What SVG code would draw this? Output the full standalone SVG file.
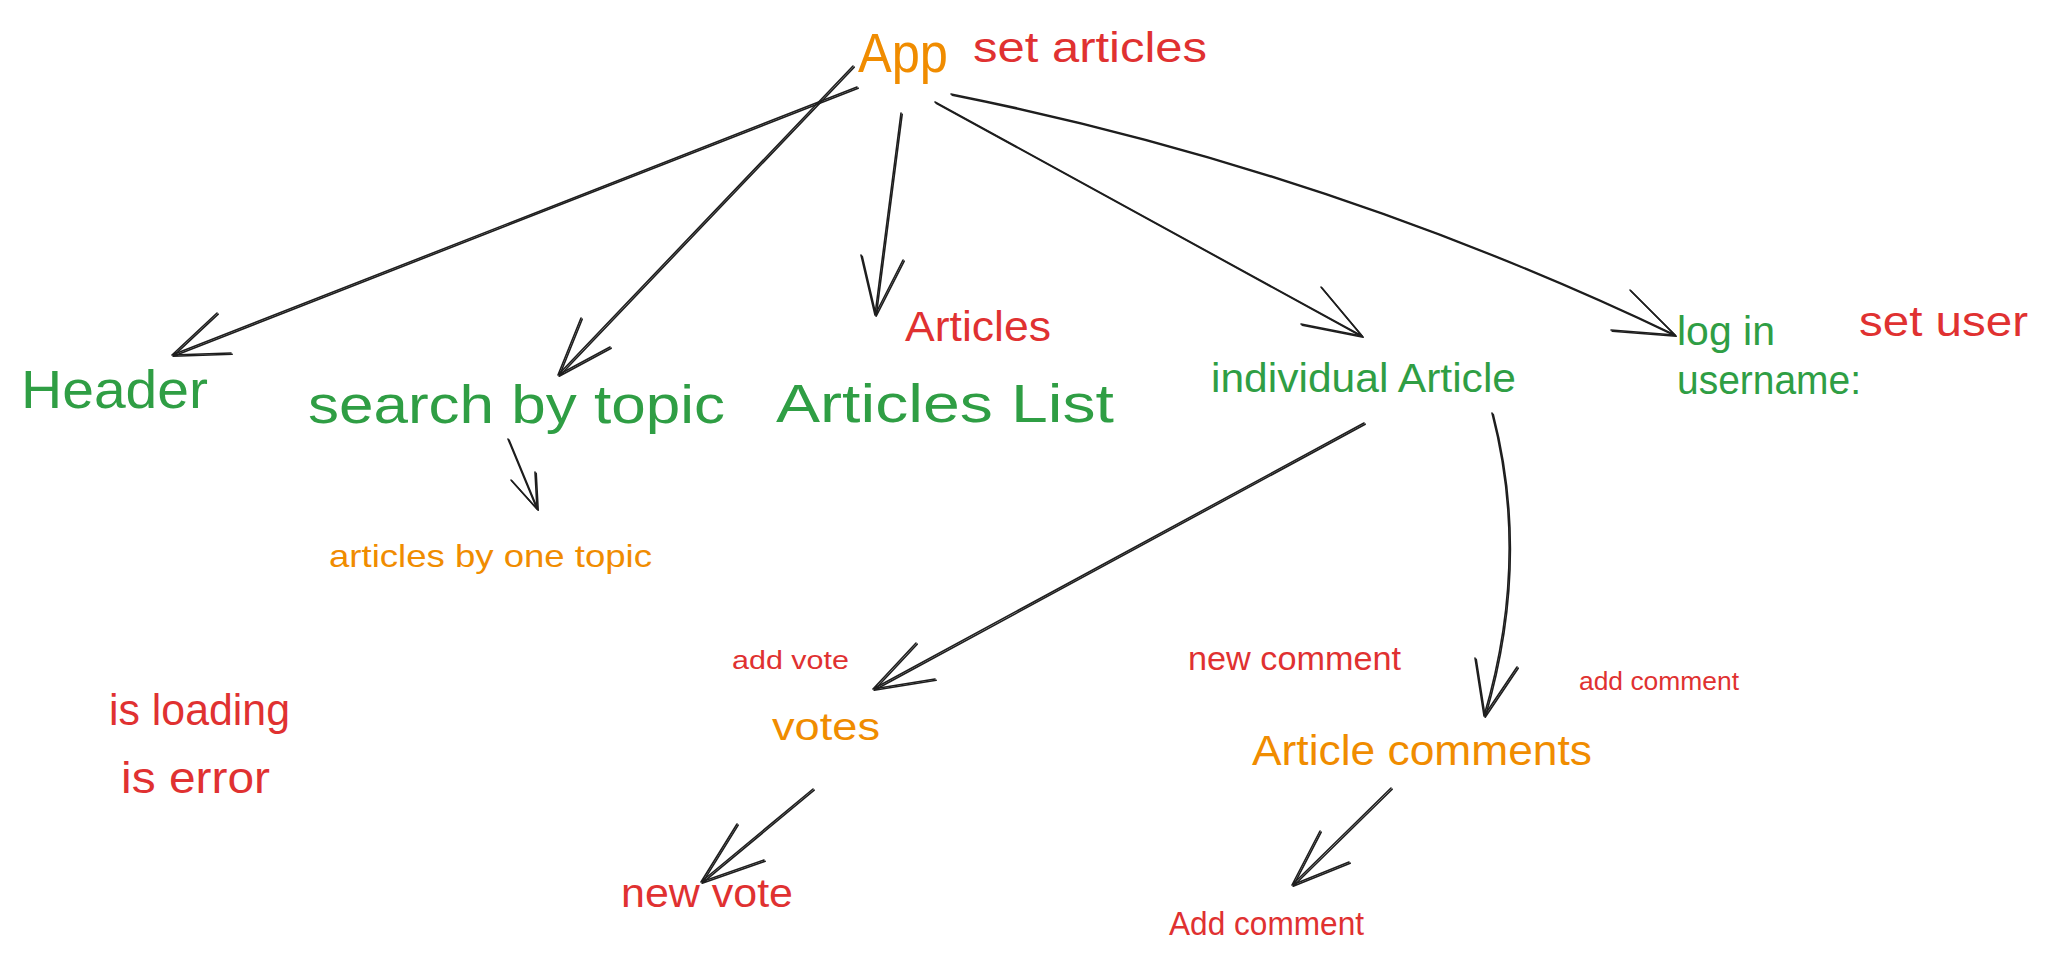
<svg xmlns="http://www.w3.org/2000/svg" xmlns:xlink="http://www.w3.org/1999/xlink" width="2068" height="966" viewBox="0 0 2068 966">
<style>
  text { font-family: "Liberation Sans", "DejaVu Sans", sans-serif; }
  .o { fill: #f08c00; }
  .r { fill: #e03131; }
  .g { fill: #2f9e44; }
  .c { fill: none; stroke: #1e1e1e; stroke-width: 1.6; stroke-linecap: round; stroke-linejoin: round; }
</style>
<rect x="0" y="0" width="2068" height="966" fill="#ffffff"/>
<g id="connectors">
  <g id="conn-lines">
    <path class="c" d="M857,87 L172,355 M217,313 L172,355 L231,353"/>
    <path class="c" d="M853,66 L558,375 M581,318 L558,375 L610,347"/>
    <path class="c" d="M901,113 L875,315 M861,255 L875,315 L903,260"/>
    <path class="c" d="M935,102 L1362,336 M1321,287 L1362,336 L1301,324"/>
    <path class="c" d="M951,94 Q1330,170 1675,335 M1630,290 L1675,335 L1611,330"/>
    <path class="c" d="M1364,423 L873,689 M916,643 L873,689 L935,679"/>
    <path class="c" d="M1492,413 Q1530,560 1484,716 M1475,658 L1484,716 L1517,667"/>
    <path class="c" d="M508,439 L537,509 M511,480 L537,509 L535,472"/>
    <path class="c" d="M813,789 L701,882 M737,824 L701,882 L764,860"/>
    <path class="c" d="M1391,788 L1292,885 M1320,831 L1292,885 L1349,862"/>
  </g>
  <use xlink:href="#conn-lines" href="#conn-lines" transform="translate(1.2,1.2)"/>
</g>
<g id="app"><text class="o" x="858" y="72" font-size="56" textLength="90" lengthAdjust="spacingAndGlyphs">App</text></g>
<g id="set-articles"><text class="r" x="973" y="62" font-size="42" textLength="234" lengthAdjust="spacingAndGlyphs">set articles</text></g>
<g id="header"><text class="g" x="21" y="408" font-size="54" textLength="187" lengthAdjust="spacingAndGlyphs">Header</text></g>
<g id="search-by-topic"><text class="g" x="308" y="423" font-size="54" textLength="417" lengthAdjust="spacingAndGlyphs">search by topic</text></g>
<g id="articles-list"><text class="g" x="776" y="422" font-size="54" textLength="338" lengthAdjust="spacingAndGlyphs">Articles List</text></g>
<g id="articles-label"><text class="r" x="905" y="341" font-size="42" textLength="146" lengthAdjust="spacingAndGlyphs">Articles</text></g>
<g id="individual-article"><text class="g" x="1211" y="392" font-size="40" textLength="305" lengthAdjust="spacingAndGlyphs">individual Article</text></g>
<g id="log-in"><text class="g" x="1677" y="345" font-size="40" textLength="98" lengthAdjust="spacingAndGlyphs">log in</text>
<text class="g" x="1677" y="394" font-size="40" textLength="184" lengthAdjust="spacingAndGlyphs">username:</text></g>
<g id="set-user"><text class="r" x="1859" y="336" font-size="42" textLength="169" lengthAdjust="spacingAndGlyphs">set user</text></g>
<g id="articles-by-one-topic"><text class="o" x="329" y="567" font-size="32" textLength="323" lengthAdjust="spacingAndGlyphs">articles by one topic</text></g>
<g id="is-loading"><text class="r" x="109" y="725" font-size="44" textLength="181" lengthAdjust="spacingAndGlyphs">is loading</text></g>
<g id="is-error"><text class="r" x="121" y="793" font-size="44" textLength="149" lengthAdjust="spacingAndGlyphs">is error</text></g>
<g id="add-vote"><text class="r" x="732" y="669" font-size="26" textLength="117" lengthAdjust="spacingAndGlyphs">add vote</text></g>
<g id="votes"><text class="o" x="772" y="740" font-size="38" textLength="108" lengthAdjust="spacingAndGlyphs">votes</text></g>
<g id="new-vote"><text class="r" x="621" y="907" font-size="40" textLength="172" lengthAdjust="spacingAndGlyphs">new vote</text></g>
<g id="new-comment"><text class="r" x="1188" y="670" font-size="34" textLength="213" lengthAdjust="spacingAndGlyphs">new comment</text></g>
<g id="add-comment"><text class="r" x="1579" y="690" font-size="26" textLength="160" lengthAdjust="spacingAndGlyphs">add comment</text></g>
<g id="article-comments"><text class="o" x="1252" y="765" font-size="42" textLength="340" lengthAdjust="spacingAndGlyphs">Article comments</text></g>
<g id="add-comment-2"><text class="r" x="1169" y="935" font-size="34" textLength="195" lengthAdjust="spacingAndGlyphs">Add comment</text></g>
</svg>
